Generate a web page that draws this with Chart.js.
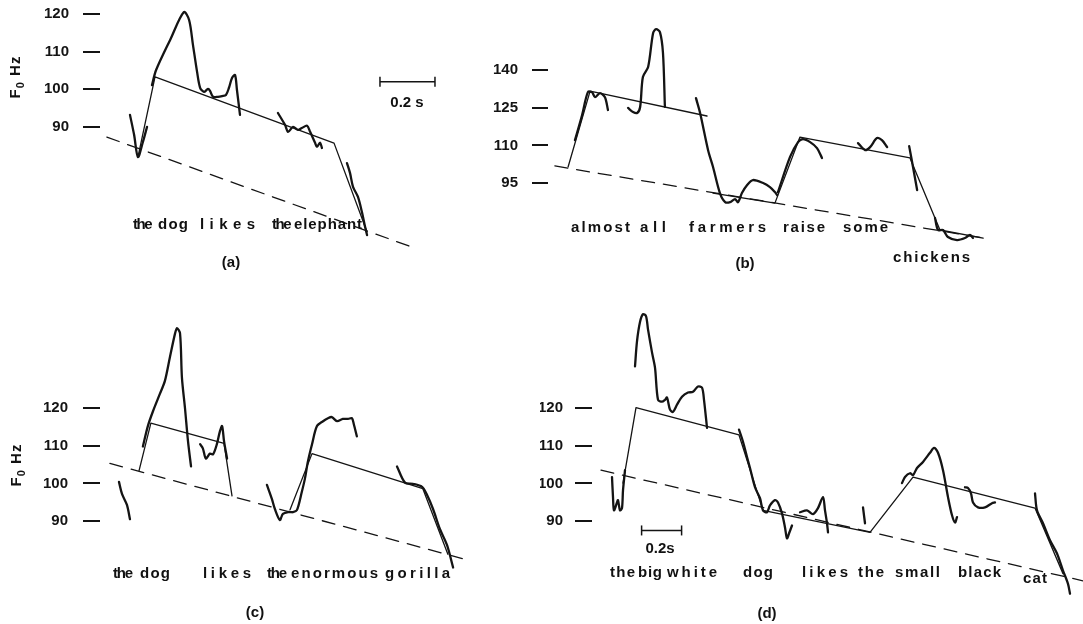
<!DOCTYPE html>
<html>
<head>
<meta charset="utf-8">
<script src="https://cdn.jsdelivr.net/npm/chart.js@4.4.0/dist/chart.umd.min.js"></script>
<style>
  body { margin: 0; background: #fff; }
  #fig { position: relative; width: 1083px; height: 624px; overflow: hidden;
         font-family: "Liberation Sans", Arial, sans-serif; font-weight: bold; color: #111; }
  #fig canvas { position: absolute; }
  .lbl { position: absolute; font-size: 15px; line-height: 20px; white-space: pre; }
  .ylab { position: absolute; font-size: 15px; letter-spacing: 1px; white-space: nowrap;
          transform: translate(-50%, -50%) rotate(-90deg); }
  .ylab sub { font-size: 11px; }
</style>
</head>
<body>
<div id="fig">
  <canvas id="chartA" width="460" height="290" style="left:0;top:0"></canvas>
  <canvas id="chartB" width="613" height="290" style="left:470px;top:0"></canvas>
  <canvas id="chartC" width="540" height="314" style="left:0;top:310px"></canvas>
  <canvas id="chartD" width="543" height="314" style="left:540px;top:310px"></canvas>
</div>
<script>
// F0 tracks as [time (ms), F0 (Hz)] pairs, one time origin per utterance

// (a) the dog likes the elephant
const ticksA = [90, 100, 110, 120];
const baselineA = [[25, 87.3], [1153, 57.6]];
const hatA = [
    [[138, 82.0], [200, 103.3], [851, 85.7], [971, 62.1]]
];
const contourA = [
    [[109, 93.2], [124, 87.9], [138, 82.0], [156, 86.0], [171, 90.0]],
    [[189, 101.1], [204, 105.1], [255, 113.1], [305, 120.5], [324, 118.4], [338, 111.8], [353, 104.6],
     [364, 100.4], [378, 99.3], [393, 100.1], [400, 99.6], [411, 98.0], [429, 98.0], [444, 98.2],
     [458, 98.5], [469, 100.4], [480, 103.0], [491, 103.8], [498, 99.8], [509, 93.2]],
    [[647, 93.7], [673, 90.5], [684, 88.7], [702, 90.0], [720, 89.2], [734, 89.7], [753, 90.3],
     [764, 88.7], [782, 85.8], [789, 84.7], [800, 85.8], [807, 84.4]],
    [[898, 80.4], [909, 77.8], [920, 74.1], [938, 71.4], [953, 67.2], [964, 63.4], [971, 61.3]]
];
const scaleBarA = [[1018, 102], [1218, 102]];

// (b) almost all farmers raise some chickens
const ticksB = [95, 110, 125, 140];
const baselineB = [[25, 101.8], [1582, 73.1]];
const hatB = [
    [[73, 101.4], [153, 131.6], [578, 121.7]],
    [[600, 91.0], [825, 87.0], [916, 113.3], [1316, 105.0], [1425, 76.3], [1582, 73.1]]
];
const contourB = [
    [[98, 112.1], [124, 122.1], [145, 131.2], [160, 131.2], [171, 129.2], [189, 130.8], [207, 129.2], [218, 124.1]],
    [[291, 124.9], [309, 123.3], [324, 122.9], [335, 125.3], [345, 137.2], [364, 141.2], [382, 154.7],
     [393, 156.3], [407, 155.1], [418, 146.8], [425, 125.3]],
    [[538, 128.8], [553, 122.9], [582, 108.1], [600, 101.4], [625, 91.0], [644, 87.4], [662, 87.4],
     [680, 88.6], [691, 87.4], [705, 91.0], [724, 94.2], [745, 96.2], [782, 95.0], [807, 93.4],
     [825, 91.4], [833, 90.2]],
    [[836, 91.4], [880, 105.4], [909, 111.3], [927, 112.5], [953, 111.3], [978, 108.9], [996, 105.0]],
    [[1127, 110.9], [1153, 108.1], [1171, 109.3], [1196, 112.9], [1214, 112.1], [1233, 109.3]],
    [[1313, 109.7], [1327, 101.4], [1342, 92.2]],
    [[1407, 81.1], [1418, 76.3], [1436, 76.3], [1454, 73.5], [1487, 72.3], [1516, 73.1], [1534, 74.3], [1545, 73.1]]
];

// (c) the dog likes the enormous gorilla
const ticksC = [90, 100, 110, 120];
const baselineC = [[47, 105.3], [1342, 79.8]];
const hatC = [
    [[153, 103.4], [196, 116.0], [462, 110.6], [491, 96.7]],
    [[702, 93.0], [782, 107.9], [1185, 98.6], [1276, 81.2]]
];
const contourC = [
    [[80, 100.4], [91, 97.2], [109, 94.3], [120, 90.5]],
    [[167, 109.8], [185, 115.2], [204, 119.2], [229, 123.8], [247, 127.2], [265, 133.4], [284, 139.8],
     [291, 141.2], [302, 139.8], [309, 128.0], [320, 120.0], [331, 111.2], [342, 104.5]],
    [[375, 110.4], [385, 109.3], [396, 106.6], [411, 107.9], [422, 107.7], [436, 110.4], [447, 113.8],
     [455, 115.2], [462, 111.2], [473, 106.6]],
    [[618, 99.6], [636, 95.9], [647, 93.2], [665, 90.3], [676, 91.9], [695, 92.4], [713, 92.4],
     [727, 92.9], [745, 97.8], [756, 101.2], [767, 105.8], [782, 110.4], [800, 115.2], [822, 116.5],
     [840, 117.3], [854, 117.6], [873, 116.5], [894, 117.1], [913, 117.1], [927, 117.3], [934, 115.7], [945, 112.5]],
    [[1091, 104.5], [1120, 100.2], [1149, 99.9], [1182, 99.1], [1200, 97.0], [1222, 93.2], [1247, 87.9],
     [1273, 83.6], [1295, 77.7]]
];

// (d) the big white dog likes the small black cat
const ticksD = [90, 100, 110, 120];
const baselineD = [[45, 103.5], [2455, 74.3]];
const hatD = [
    [[155, 100.1], [220, 120.0], [735, 112.8], [855, 92.9], [1390, 87.1], [1605, 101.7], [2215, 93.5], [2355, 76.2]]
];
const contourD = [
    [[100, 101.7], [105, 96.4], [110, 92.9], [125, 95.0], [130, 95.6], [140, 92.9], [150, 93.5], [155, 98.2], [165, 103.5]],
    [[215, 130.9], [225, 137.5], [240, 142.6], [255, 144.7], [270, 144.2], [280, 140.7], [300, 134.6],
     [315, 130.6], [330, 122.1], [350, 121.6], [365, 122.1], [375, 122.7], [390, 119.5], [405, 118.9],
     [425, 120.8], [450, 122.9], [480, 124.0], [505, 124.2], [530, 125.6], [550, 125.3], [560, 122.1], [575, 114.7]],
    [[735, 114.2], [755, 111.0], [775, 107.0], [790, 104.1], [815, 99.0], [840, 96.1], [855, 92.9],
     [875, 92.4], [890, 94.2], [915, 95.6], [930, 95.0], [950, 92.1], [965, 88.4], [975, 85.5],
     [985, 86.8], [1000, 88.9]],
    [[1040, 92.4], [1075, 92.9], [1105, 91.9], [1130, 93.5], [1155, 96.4], [1165, 92.9], [1175, 89.5], [1180, 87.1]],
    [[1355, 93.7], [1365, 89.5]],
    [[1550, 100.1], [1565, 101.7], [1590, 102.7], [1605, 102.2], [1625, 104.1], [1655, 105.7], [1690, 108.1],
     [1710, 109.4], [1730, 108.1], [1755, 103.5], [1780, 96.4], [1800, 91.6], [1815, 89.7], [1825, 91.1]],
    [[1865, 99.0], [1880, 98.8], [1895, 97.4], [1905, 95.0], [1930, 93.7], [1965, 93.7], [2000, 94.8], [2015, 95.0]],
    [[2215, 97.4], [2225, 92.9], [2255, 89.5], [2290, 85.0], [2325, 81.5], [2355, 77.0], [2380, 73.5], [2390, 70.9]]
];
const scaleBarD = [[248, 87.6], [448, 87.6]];

// words under each track: [text, left, right, baseline]
const words = [
    ['the', 133, 152, 229], ['dog', 158, 188, 229], ['likes', 200, 255, 229], ['the', 272, 290, 229], ['elephant', 294, 362, 229],
    ['almost', 571, 630, 232], ['all', 640, 666, 232], ['farmers', 689, 766, 232], ['raise', 783, 825, 232],
    ['some', 843, 888, 232], ['chickens', 893, 970, 262],
    ['the', 113, 133, 578], ['dog', 140, 170, 578], ['likes', 203, 251, 578], ['the', 267, 287, 578],
    ['enormous', 291, 378, 578], ['gorilla', 385, 450, 578],
    ['the', 610, 635, 577], ['big', 638, 662, 577], ['white', 667, 717, 577], ['dog', 743, 773, 577],
    ['likes', 802, 848, 577], ['the', 858, 884, 577], ['small', 895, 940, 577], ['black', 958, 1001, 577],
    ['cat', 1023, 1047, 583]
];
// centred captions: [text, centre x, baseline]
const captions = [
    ['(a)', 231, 267], ['(b)', 745, 268], ['(c)', 255, 617], ['(d)', 767, 618],
    ['0.2 s', 407, 107], ['0.2s', 660, 553]
];

Chart.defaults.font.family = '"Liberation Sans", Arial, sans-serif';
Chart.defaults.font.size = 15;
Chart.defaults.font.weight = 'bold';
Chart.defaults.color = '#111';

const INK = '#141414';

function track(points, width, dash, tension) {
    return {
        data: points.map(p => ({ x: p[0], y: p[1] })),
        showLine: true,
        borderColor: INK,
        borderWidth: width,
        borderDash: dash || [],
        borderCapStyle: 'round',
        borderJoinStyle: 'round',
        tension: tension || 0,
        pointRadius: 0,
        clip: false
    };
}

function scaleBar(points) {
    let ds = track(points, 1.5);
    ds.pointStyle = 'line';
    ds.rotation = 90;
    ds.pointRadius = 5;
    ds.pointBorderWidth = 1.5;
    ds.pointBorderColor = INK;
    ds.borderCapStyle = 'butt';
    return ds;
}

function drawPanel(id, p) {
    let datasets = [track(p.baseline, 1.3, [13, 9])];
    p.hat.forEach(s => datasets.push(track(s, 1.3)));
    p.contour.forEach(s => datasets.push(track(s, 2.3, null, 0.3)));
    if (p.bar) datasets.push(scaleBar(p.bar));

    new Chart(document.getElementById(id), {
        type: 'scatter',
        data: { datasets: datasets },
        options: {
            responsive: false,
            animation: false,
            layout: { padding: 0, autoPadding: false },
            plugins: { legend: { display: false }, tooltip: { enabled: false } },
            scales: {
                x: { type: 'linear', display: false, min: p.xMin || 0, max: p.xMax },
                y: {
                    min: p.yMin,
                    max: p.yMax,
                    border: { display: false },
                    grid: { drawOnChartArea: false, drawTicks: true, tickLength: p.tickLen, lineWidth: 2, color: INK },
                    ticks: { padding: p.pad, color: INK, font: { size: 15, weight: 'bold' } },
                    afterBuildTicks: s => { s.ticks = p.ticks.map(v => ({ value: v })); },
                    afterFit: s => { s.width = p.axisW; s.paddingTop = 0; s.paddingBottom = 0; }
                }
            }
        }
    });
}

drawPanel('chartA', { baseline: baselineA, hat: hatA, contour: contourA, bar: scaleBarA, ticks: ticksA,
    xMax: 1309, yMin: 46.7, yMax: 123.7, axisW: 100, tickLen: 17, pad: 14 });
drawPanel('chartB', { baseline: baselineB, hat: hatB, contour: contourB, ticks: ticksB,
    xMax: 1945, yMin: 52.4, yMax: 167.9, axisW: 78, tickLen: 16, pad: 14 });
drawPanel('chartC', { baseline: baselineC, hat: hatC, contour: contourC, ticks: ticksC,
    xMin: 11, xMax: 1611, yMin: 62.7, yMax: 146.0, axisW: 100, tickLen: 17, pad: 15 });
drawPanel('chartD', { baseline: baselineD, hat: hatD, contour: contourD, bar: scaleBarD, ticks: ticksD,
    xMax: 2455, yMin: 62.9, yMax: 145.8, axisW: 52, tickLen: 17, pad: 12 });

// text layer
const fig = document.getElementById('fig');
const measure = document.createElement('canvas').getContext('2d');
measure.font = 'bold 15px "Liberation Sans", Arial, sans-serif';

words.forEach(w => {
    let el = document.createElement('span');
    el.className = 'lbl';
    el.textContent = w[0];
    let natural = measure.measureText(w[0]).width;
    let gap = (w[2] - w[1] - natural) / (w[0].length - 1);
    el.style.letterSpacing = Math.max(gap, -1.5) + 'px';
    el.style.left = w[1] + 'px';
    el.style.top = (w[3] - 15) + 'px';
    fig.appendChild(el);
});

captions.forEach(c => {
    let el = document.createElement('span');
    el.className = 'lbl';
    el.textContent = c[0];
    el.style.left = c[1] + 'px';
    el.style.top = (c[2] - 15) + 'px';
    el.style.transform = 'translateX(-50%)';
    fig.appendChild(el);
});

[[16, 77], [17, 465]].forEach(pos => {
    let el = document.createElement('div');
    el.className = 'ylab';
    el.innerHTML = 'F<sub>0</sub> Hz';
    el.style.left = pos[0] + 'px';
    el.style.top = pos[1] + 'px';
    fig.appendChild(el);
});
</script>
</body>
</html>
